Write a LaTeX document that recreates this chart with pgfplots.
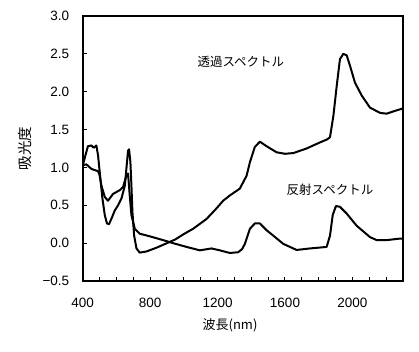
\documentclass[border=0pt]{standalone}
\usepackage{fontspec}
\setmainfont{Liberation Sans}
\newfontfamily\jp{Noto Sans CJK JP}
\usepackage{pgfplots}
\pgfplotsset{compat=1.18}
\begin{document}
\begin{tikzpicture}
\path[use as bounding box] (0,0) rectangle (419pt,352pt);
\begin{axis}[
  at={(82.7pt,71pt)}, anchor=south west,
  scale only axis, width=320.3pt, height=265pt,
  xmin=400, xmax=2300, ymin=-0.5, ymax=3.0,
  xtick={400,800,1200,1600,2000},
  xticklabels={400,800,1200,1600,2000},
  minor xtick={500,600,700,900,1000,1100,1300,1400,1500,1700,1800,1900,2100,2200},
  ytick={-0.5,0,0.5,1,1.5,2,2.5,3},
  yticklabels={−0.5,0.0,0.5,1.0,1.5,2.0,2.5,3.0},
  xtick pos=bottom, ytick pos=left,
  tick align=inside,
  major tick length=4pt, minor tick length=4pt,
  every tick/.style={black, line width=1pt},
  axis line style={line width=2pt},
  tick label style={font=\fontsize{13.5}{15}\selectfont},
  xticklabel style={yshift=-14pt},
  yticklabel style={xshift=-10pt},
  xlabel={\jp 波長(nm)},
  ylabel={\jp 吸光度},
  every axis x label/.style={at={(axis description cs:0.46,-0.166)}, anchor=center, font=\fontsize{13}{15}\selectfont},
  every axis y label/.style={at={(axis description cs:-0.18,0.50)}, anchor=center, rotate=90, font=\fontsize{14.5}{16}\selectfont},
]
\addplot[black, line width=2pt, line join=round] table {
400 1.02
415 1.15
431 1.28
451 1.29
465 1.26
481 1.29
491 1.16
505 0.85
517 0.59
531 0.37
544 0.26
556 0.25
570 0.32
590 0.43
610 0.50
630 0.59
650 0.76
659 0.98
669 1.22
675 1.24
683 1.07
689 0.76
695 0.41
705 0.10
719 -0.07
738 -0.125
778 -0.11
838 -0.06
900 0.00
950 0.05
1000 0.12
1055 0.19
1135 0.32
1194 0.46
1233 0.56
1273 0.63
1332 0.72
1372 0.89
1392 1.07
1421 1.27
1451 1.34
1491 1.28
1550 1.20
1600 1.18
1650 1.19
1728 1.25
1807 1.33
1850 1.37
1867 1.40
1887 1.68
1907 2.08
1926 2.43
1946 2.50
1966 2.48
1986 2.34
2015 2.12
2055 1.95
2104 1.79
2164 1.72
2203 1.71
2243 1.74
2300 1.78
};
\addplot[black, line width=2pt, line join=round] table {
400 1.03
422 1.04
452 0.98
491 0.95
500 0.90
511 0.76
531 0.61
550 0.56
580 0.65
620 0.70
639 0.74
659 0.89
669 0.92
679 0.63
689 0.37
709 0.19
738 0.125
798 0.09
877 0.04
936 0.00
1016 -0.05
1095 -0.095
1164 -0.07
1213 -0.095
1273 -0.13
1322 -0.12
1345 -0.08
1362 -0.01
1392 0.19
1421 0.26
1451 0.26
1491 0.17
1530 0.10
1590 -0.01
1669 -0.09
1748 -0.07
1847 -0.05
1867 0.10
1883 0.37
1902 0.49
1926 0.48
1966 0.39
2025 0.23
2104 0.08
2144 0.04
2203 0.04
2282 0.06
2300 0.06
};
\node[font=\jp\fontsize{12.5}{14}\selectfont] at (axis cs:1338,2.40) {透過スペクトル};
\node[font=\jp\fontsize{12.5}{14}\selectfont] at (axis cs:1867,0.70) {反射スペクトル};
\end{axis}
\end{tikzpicture}
\end{document}
